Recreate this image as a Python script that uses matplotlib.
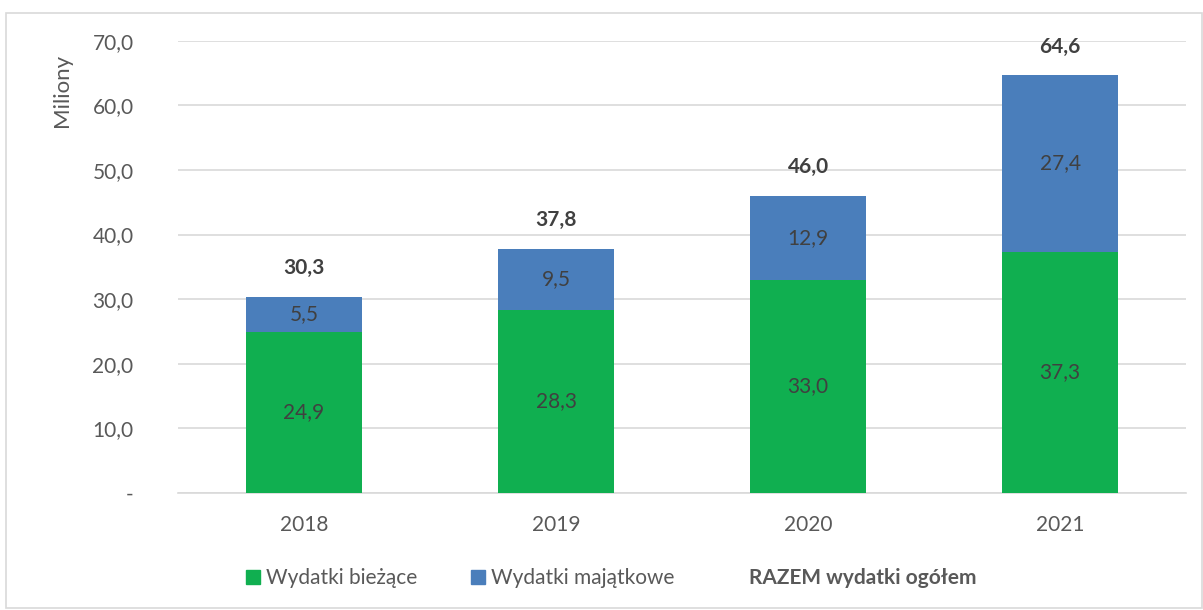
import matplotlib.pyplot as plt
from matplotlib.patches import Rectangle, Patch

lata = ["2018", "2019", "2020", "2021"]
biezace = [24.9, 28.3, 33.0, 37.3]
majatkowe = [5.5, 9.5, 12.9, 27.4]
razem = [30.3, 37.8, 46.0, 64.6]

zielony = "#10AF50"
niebieski = "#4A7EBB"
szary = "#595959"

plt.rcParams['font.family'] = ['Lato', 'DejaVu Sans']

def fmt(v):
    return f"{v:.1f}".replace(".", ",")

fig = plt.figure(figsize=(12.03, 6.10), dpi=100)
fig.patches.append(Rectangle((0.005, 0.003), 0.994, 0.975, transform=fig.transFigure,
                             fill=False, edgecolor="#D9D9D9", linewidth=1.2))
ax = fig.add_axes([0.148, 0.192, 0.838, 0.741])

x = range(len(lata))
szer = 0.46
b1 = ax.bar(x, biezace, szer, color=zielony, zorder=3)
b2 = ax.bar(x, majatkowe, szer, bottom=biezace, color=niebieski, zorder=3)

for i in x:
    ax.text(i, biezace[i] / 2, fmt(biezace[i]), ha="center", va="center",
            fontsize=15, color="#404040", zorder=4)
    ax.text(i, biezace[i] + majatkowe[i] / 2, fmt(majatkowe[i]), ha="center", va="center",
            fontsize=15, color="#404040", zorder=4)
    ax.text(i, razem[i] + 4.5, fmt(razem[i]), ha="center", va="center",
            fontsize=15, fontweight="bold", color="#404040", zorder=4)

ax.set_xlim(-0.5, 3.5)
ax.set_ylim(0, 70)
ax.set_yticks(range(0, 71, 10))
ax.set_yticklabels(["-"] + [fmt(v) for v in range(10, 71, 10)])
ax.set_xticks(list(x))
ax.set_xticklabels(lata)
ax.tick_params(axis="y", length=0, pad=32, labelsize=15, labelcolor=szary)
ax.tick_params(axis="x", length=0, pad=16, labelsize=15, labelcolor=szary)
ax.grid(axis="y", color="#D9D9D9", linewidth=1.2, zorder=0)
for s in ax.spines.values():
    s.set_visible(False)
ax.spines["bottom"].set_visible(True)
ax.spines["bottom"].set_color("#D9D9D9")
ax.spines["bottom"].set_linewidth(1.2)

ax.set_ylabel("Miliony", fontsize=16, color=szary)
ax.yaxis.set_label_coords(-0.105, 0.89)

uchwyty = [Patch(color=zielony), Patch(color=niebieski), Patch(color="none")]
leg = fig.legend(uchwyty, ["Wydatki bieżące", "Wydatki majątkowe", "RAZEM wydatki ogółem"],
                 loc="center", bbox_to_anchor=(0.508, 0.052), ncol=3, frameon=False,
                 fontsize=15, handlelength=0.65, handleheight=0.65, handletextpad=0.3,
                 columnspacing=2.6)
teksty = leg.get_texts()
for t in teksty:
    t.set_color(szary)
teksty[2].set_fontweight("bold")

fig.savefig("out.png", dpi=100)
